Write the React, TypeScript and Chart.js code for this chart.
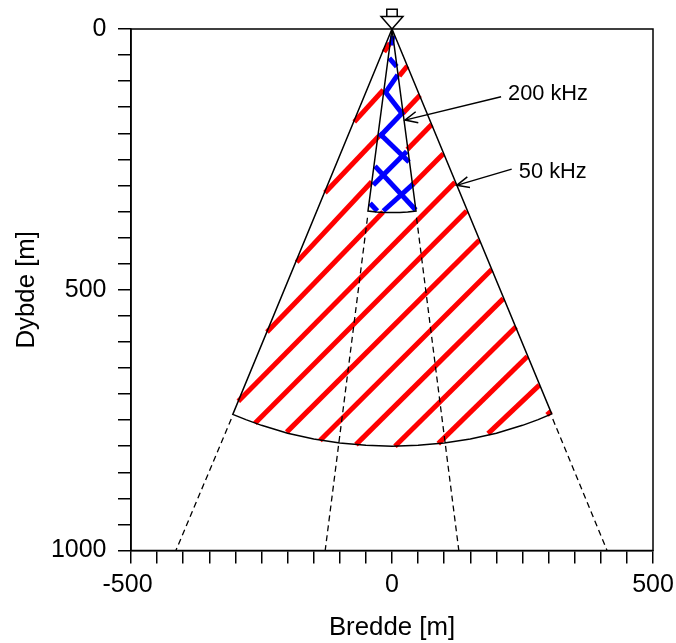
import React, { useEffect, useRef } from "react";
import { Chart, registerables } from "chart.js";

Chart.register(...registerables);

const FONT = '"Liberation Sans", Arial, sans-serif';

const xLabelValues = [-500, 0, 500];
const yLabelValues = [0, 500, 1000];
const xAxisTitle = "Bredde [m]";
const yAxisTitle = "Dybde [m]";

// Beam outlines [m]
const beam50X = [0, -305, -280, -250, -200, -150, -100, -50, 0, 50, 100, 150, 200, 250, 280, 306, 0];
const beam50Y = [0, 739, 749, 760, 775, 786, 794, 798, 800, 798, 794, 786, 775, 760, 749, 738, 0];
const beam200X = [0, -46, -30, -15, 0, 15, 30, 46, 0];
const beam200Y = [0, 349, 351, 352, 352, 352, 351, 349, 0];

// Dashed extensions: [x1, y1, x2, y2]
const dashedLines = [
  [-308, 748, -414, 1000],
  [308, 748, 412, 1000],
  [-47, 362, -128, 1000],
  [47, 362, 128, 1000],
];

// Red hatching for 50 kHz: [x1, y1, x2, y2]
const redHatch = [
  [-15.3, 44, -3.8, 27],
  [-72.2, 178, -16.7, 117],
  [14, 90, 29.3, 71],
  [-128.4, 314, -24.9, 205],
  [20.5, 162, 53.6, 127],
  [-182.6, 447, -38.9, 293],
  [29.3, 231, 76, 183],
  [-239.5, 581, -17, 351],
  [38.9, 299, 98.3, 239],
  [-294.4, 714, 120.7, 294],
  [-262.5, 756, 143, 349],
  [-201.7, 773, 167.2, 405],
  [-137.9, 789, 191, 461],
  [-69, 797, 213.2, 517],
  [5.7, 800, 237.5, 571],
  [88.7, 795, 259.2, 628],
  [184, 776, 282.2, 683],
  [297, 740, 304.6, 733],
];

// Blue hatching for 200 kHz: [x1, y1, x2, y2]
const blueHatch = [
  [1.9, 13, -1.9, 31],
  [-5.2, 56, 9, 72],
  [10.9, 88, -13.4, 123],
  [-13.4, 120, 21.6, 165],
  [18.6, 162, -24.3, 207],
  [-24.3, 200, 32.6, 255],
  [28.2, 235, -35.8, 299],
  [-32.6, 263, 45.4, 347],
  [40.8, 297, -16.7, 349],
  [-42.1, 334, -28.2, 349],
];

// Pointer arrows
const arrow200LineX = [209, 24.9];
const arrow200LineY = [130, 174.7];
const arrow200HeadX = [45.4, 24.9, 50.4];
const arrow200HeadY = [158.7, 174.7, 179.8];
const arrow50LineX = [229.3, 123.9];
const arrow50LineY = [268.7, 299.8];
const arrow50HeadX = [144.3, 123.9, 149.4];
const arrow50HeadY = [283.5, 299.8, 303.8];

// Transducer symbol above the surface
const triangleX = [0, -21, 21, 0];
const triangleY = [0, -24, -24, 0];
const boxX = [-10, -10, 10, 10];
const boxY = [-24, -38, -38, -24];

// Annotation labels
const annotationTexts = ["200 kHz", "50 kHz"];
const annotationX = [298.9, 308];
const annotationY = [124.8, 273.9];

const zip = (xs: number[], ys: number[]) => xs.map((x, i) => ({ x, y: ys[i] }));
const seg = (s: number[]) => [{ x: s[0], y: s[1] }, { x: s[2], y: s[3] }];

export default function App() {
  const ref = useRef<HTMLCanvasElement>(null);
  useEffect(() => {
    const line = (data: any[], extra: any = {}) => ({
      data,
      showLine: true,
      pointRadius: 0,
      borderColor: "#000",
      borderWidth: 1.5,
      order: 0,
      ...extra,
    });
    const framePlugin = {
      id: "frameAndText",
      afterDatasetsDraw(chart: any) {
        const { ctx, chartArea: a, scales } = chart;
        ctx.save();
        ctx.strokeStyle = "#000";
        ctx.lineWidth = 1.5;
        ctx.strokeRect(a.left, a.top, a.right - a.left, a.bottom - a.top);
        ctx.fillStyle = "#000";
        ctx.font = `21.8px ${FONT}`;
        ctx.textAlign = "center";
        ctx.textBaseline = "middle";
        annotationTexts.forEach((t, i) => {
          ctx.fillText(t, scales.x.getPixelForValue(annotationX[i]), scales.y.getPixelForValue(annotationY[i]));
        });
        ctx.restore();
      },
    };
    const chart = new Chart(ref.current as HTMLCanvasElement, {
      type: "scatter",
      data: {
        datasets: [
          line(zip(beam50X, beam50Y)),
          line(zip(beam200X, beam200Y)),
          ...dashedLines.map((s) => line(seg(s), { borderDash: [6, 4], borderWidth: 1.3 })),
          line(zip(arrow200LineX, arrow200LineY)),
          line(zip(arrow200HeadX, arrow200HeadY)),
          line(zip(arrow50LineX, arrow50LineY)),
          line(zip(arrow50HeadX, arrow50HeadY)),
          line(zip(triangleX, triangleY), { clip: false }),
          line(zip(boxX, boxY), { clip: false }),
          ...blueHatch.map((s) => line(seg(s), { borderColor: "#0000ff", borderWidth: 5, order: 1 })),
          ...redHatch.map((s) => line(seg(s), { borderColor: "#ff0000", borderWidth: 5, order: 2 })),
        ] as any,
      },
      options: {
        animation: false,
        responsive: false,
        devicePixelRatio: 1,
        layout: { padding: { left: 0, top: 29, right: 23, bottom: 0 } },
        plugins: { legend: { display: false }, tooltip: { enabled: false } },
        scales: {
          x: {
            type: "linear",
            min: -500,
            max: 500,
            afterFit: (s: any) => {
              s.height = 92.5;
              s.paddingLeft = 0;
              s.paddingRight = 0;
            },
            grid: { drawOnChartArea: false, drawTicks: true, tickLength: 13, color: "#000", lineWidth: 1.5 },
            border: { display: true, color: "#000", width: 1.5 },
            title: { display: true, text: xAxisTitle, color: "#000", font: { family: FONT, size: 25.8 }, padding: { top: 0, bottom: 0 } },
            ticks: {
              stepSize: 50,
              autoSkip: false,
              maxRotation: 0,
              padding: 7,
              color: "#000",
              font: { family: FONT, size: 25 },
              callback: (v: any) => {
                const n = Number(v);
                if (!xLabelValues.includes(n)) return "";
                return n < 0 ? String(v) + " " : String(v);
              },
            },
          },
          y: {
            type: "linear",
            min: 0,
            max: 1000,
            reverse: true,
            afterFit: (s: any) => {
              s.width = 131;
              s.paddingTop = 0;
              s.paddingBottom = 0;
            },
            grid: { drawOnChartArea: false, drawTicks: true, tickLength: 13, color: "#000", lineWidth: 1.5 },
            border: { display: true, color: "#000", width: 1.5 },
            title: { display: true, text: yAxisTitle, color: "#000", font: { family: FONT, size: 25.8 }, padding: { top: 11, bottom: 0 } },
            ticks: {
              stepSize: 50,
              autoSkip: false,
              padding: 11.5,
              color: "#000",
              font: { family: FONT, size: 25 },
              callback: (v: any) => (yLabelValues.includes(Number(v)) ? String(v) : ""),
            },
          },
        },
      } as any,
      plugins: [framePlugin],
    });
    return () => chart.destroy();
  }, []);
  return (
    <canvas
      ref={ref}
      width={676}
      height={643}
      style={{ position: "absolute", left: 0, top: 0, display: "block", background: "#fff" }}
    />
  );
}
